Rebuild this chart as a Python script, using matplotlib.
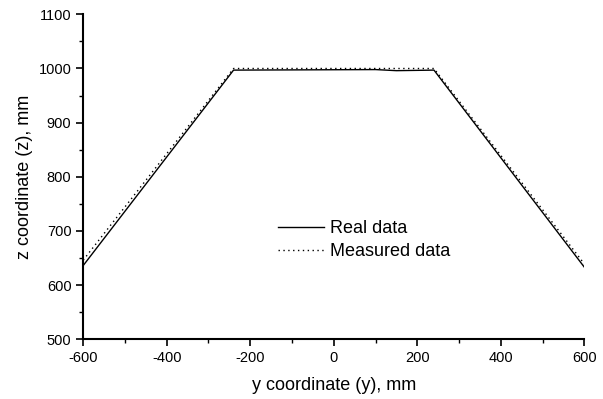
import matplotlib
matplotlib.use('Agg')
import matplotlib.pyplot as plt
from matplotlib.ticker import MultipleLocator

plt.rcParams['font.family'] = ['Liberation Sans', 'DejaVu Sans']
plt.rcParams['axes.unicode_minus'] = False

# Real data (solid line)
real_y = [-600, -240, 100, 150, 240, 600]
real_z = [636, 997, 998, 996, 997, 633]

# Measured data (dotted line)
meas_y = [-600, -240, 240, 600]
meas_z = [646, 1000, 1000, 639]

fig = plt.figure(figsize=(6.03, 3.99), dpi=100)
ax = fig.add_axes([0.138, 0.150, 0.831, 0.814])

ax.plot(real_y, real_z, color='black', linewidth=1.0, label='Real data')
ax.plot(meas_y, meas_z, color='black', linewidth=1.0, linestyle=(0, (1, 2.5)),
        label='Measured data')

ax.set_xlim(-600, 600)
ax.set_ylim(500, 1100)
ax.xaxis.set_major_locator(MultipleLocator(200))
ax.xaxis.set_minor_locator(MultipleLocator(100))
ax.yaxis.set_major_locator(MultipleLocator(100))
ax.yaxis.set_minor_locator(MultipleLocator(50))

for side in ['top', 'right']:
    ax.spines[side].set_visible(False)
for side in ['left', 'bottom']:
    ax.spines[side].set_linewidth(1.5)

ax.tick_params(which='major', direction='out', length=5, width=1.2, labelsize=10.5)
ax.tick_params(which='minor', direction='out', length=3, width=1.0)

ax.set_xlabel('y coordinate (y), mm', fontsize=13, labelpad=9)
ax.set_ylabel('z coordinate (z), mm', fontsize=13, labelpad=4)

ax.legend(loc='center', bbox_to_anchor=(0.56, 0.305), frameon=False,
          fontsize=13, handlelength=2.6, handletextpad=0.3, labelspacing=0.34)

fig.savefig('out.png', dpi=100)
